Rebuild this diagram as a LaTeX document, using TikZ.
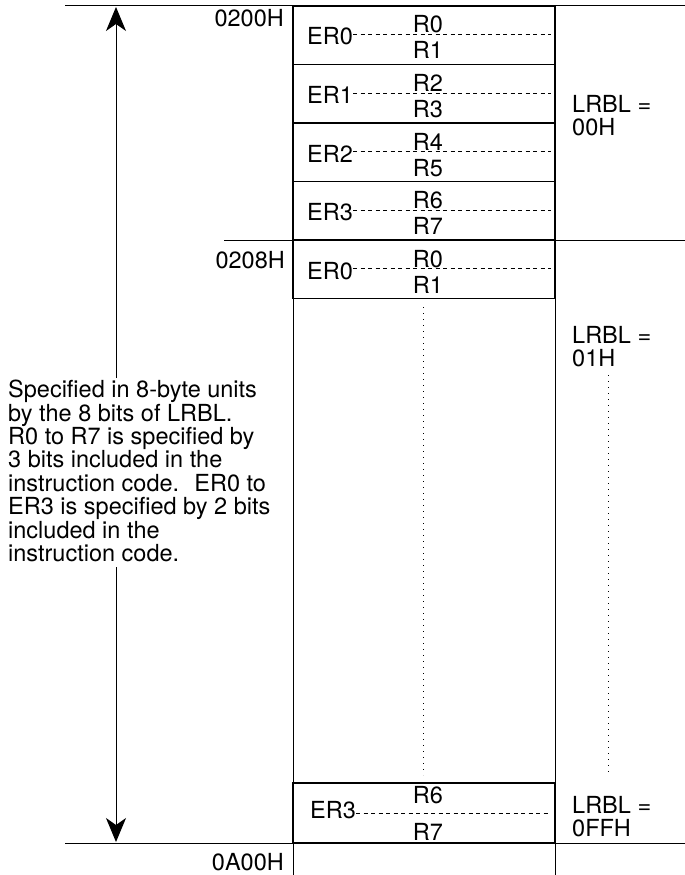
\documentclass[tikz,border=0pt]{standalone}
\usepackage{fontspec}
\setmainfont{TeX Gyre Heros}
\usetikzlibrary{arrows.meta,positioning}

\begin{document}
\begin{tikzpicture}[x=1pt,y=-1pt,
  txt/.style={inner sep=0pt, font=\fontsize{23.5}{23.4}\selectfont},
  regline/.style={line width=0.7pt, dash pattern=on 4pt off 3.5pt},
  dotline/.style={line width=1pt, dash pattern=on 1.2pt off 4.8pt},
  span/.style={line width=1pt, -{Stealth[length=24pt,width=20pt,inset=7pt]}}]
\useasboundingbox (0,0) rectangle (685,875);
\draw[line width=1pt] (65,6) -- (685,6) (224,240) -- (685,240) (65,843) -- (685,843);
\draw[line width=1pt] (293,6) -- (293,875) (555,6) -- (555,875);

\foreach \i/\t/\e/\ra/\rb in {1/6/0/0/1, 2/64.5/1/2/3, 3/123/2/4/5, 4/181.5/3/6/7, 5/240/0/0/1} {
  \draw[line width=1.2pt] (293,\t) rectangle (555,\t+58.7);
  \node[txt, anchor=base west] (er\i) at (307,\t+39) {ER\e};
  \coordinate (dend\i) at (551,\t+28.5);
  \draw[regline] (er\i.east |- dend\i) -- (dend\i);
  \node[txt, anchor=base] (ra\i) at (428,\t+27) {R\ra};
  \node[txt, anchor=base] (rb\i) at (428,\t+53) {R\rb};
}

\draw[line width=1.2pt] (293,783) rectangle (555,843);
\node[txt, anchor=base west] (erlast) at (310,818) {ER3};
\coordinate (dlast) at (551,813);
\draw[regline] (erlast.east |- dlast) -- (dlast);
\node[txt, anchor=base] (rlast6) at (428,803) {R6};
\node[txt, anchor=base] (rlast7) at (428,840) {R7};

\node[txt, anchor=base east] (a0200) at (284,27) {0200H};
\node[txt, anchor=base east] (a0208) at (285,268) {0208H};
\node[txt, anchor=base east] (a0A00) at (284,870) {0A00H};

\node[txt, anchor=north west, align=left] (lrbl0) at (572,95) {LRBL =\\00H};
\node[txt, anchor=north west, align=left] (lrbl1) at (572,326) {LRBL =\\01H};
\node[txt, anchor=north west, align=left] (lrblf) at (572,796) {LRBL =\\0FFH};

\coordinate (mtop) at (423,307);
\coordinate (mbot) at (423,775);
\draw[dotline] (mtop) -- (mbot);
\coordinate (rtop) at (608,375);
\coordinate (rbot) at (608,775);
\draw[dotline] (rtop) -- (rbot);

\node[txt, anchor=north west, align=left] (note) at (8,380)
  {Specified in 8-byte units\\by the 8 bits of LRBL.\\R0 to R7 is specified by\\3 bits included in the\\instruction code.~ ER0 to\\ER3 is specified by 2 bits\\included in the\\instruction code.};

\coordinate (utop) at (116,7);
\coordinate (ubot) at (116,842);
\coordinate (gtop) at (116,378);
\coordinate (gbot) at (116,567);
\draw[span] (gtop) -- (utop);
\draw[span] (gbot) -- (ubot);
\end{tikzpicture}
\end{document}
